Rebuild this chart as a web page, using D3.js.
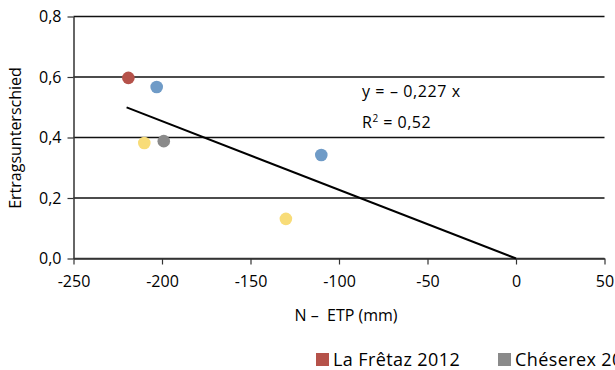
<!DOCTYPE html>
<html><head><meta charset="utf-8">
<script src="https://cdn.jsdelivr.net/npm/d3@7"></script>
<style>body{margin:0;background:#fff}svg{display:block}text{font-family:"Open Sans",sans-serif;fill:#000}</style>
</head><body>
<svg id="c" width="615" height="370"></svg>
<script>
const seriesNames = ["La Frêtaz 2012", "Chéserex 2012", "Serie 3", "Serie 4"];
const seriesColors = ["#b5524a", "#8a8a8a", "#6f9bc7", "#f8dc78"];
const pointX = [-219, -199, -203, -110, -210, -130];
const pointY = [0.597, 0.388, 0.567, 0.342, 0.382, 0.131];
const pointSeries = [0, 1, 2, 2, 3, 3];
const slope = -0.00227;
const trendX = [-220, 0];
const xTicks = [-250, -200, -150, -100, -50, 0, 50];
const yTicks = [0, 0.2, 0.4, 0.6, 0.8];
const legendShown = [0, 1];

const svg = d3.select("#c");
const x = d3.scaleLinear().domain([-250, 50]).range([73.5, 604.5]);
const y = d3.scaleLinear().domain([0, 0.8]).range([258.5, 16.5]);

// gridlines
svg.append("g").selectAll("line").data(yTicks.filter(d => d > 0)).join("line")
  .attr("x1", x(-250)).attr("x2", x(50)).attr("y1", d => y(d)).attr("y2", d => y(d))
  .attr("stroke", "#111").attr("stroke-width", 1.3);

const fmt = d => d3.format(".1f")(d).replace(".", ",");
const yAxis = svg.append("g").attr("transform", `translate(${x(-250)},0)`)
  .call(d3.axisLeft(y).tickValues(yTicks).tickSize(6).tickSizeOuter(0).tickFormat(fmt).tickPadding(6));
const xAxis = svg.append("g").attr("transform", `translate(0,${y(0)})`)
  .call(d3.axisBottom(x).tickValues(xTicks).tickSize(6).tickSizeOuter(0).tickFormat(d3.format("d")).tickPadding(11));
[yAxis, xAxis].forEach(a => {
  a.select(".domain").attr("stroke", "#333").attr("stroke-width", 1.5);
  a.selectAll(".tick line").attr("stroke", "#333").attr("stroke-width", 1.2);
  a.selectAll("text").style("font-size", "16px").attr("fill", "#000").style("font-family", '"Open Sans",sans-serif');
});
xAxis.selectAll("text").text(d => d < 0 ? "-" + Math.abs(d) : d);
svg.append("line").attr("x1", x(-250)).attr("x2", x(50)).attr("y1", y(0)).attr("y2", y(0))
  .attr("stroke", "#333").attr("stroke-width", 1.5);

// trend line
svg.append("line")
  .attr("x1", x(trendX[0])).attr("y1", y(slope * trendX[0]))
  .attr("x2", x(trendX[1])).attr("y2", y(slope * trendX[1]))
  .attr("stroke", "#000").attr("stroke-width", 2);

// points
svg.append("g").selectAll("circle").data(pointX.map((v, i) => i)).join("circle")
  .attr("cx", i => x(pointX[i])).attr("cy", i => y(pointY[i])).attr("r", 6.3)
  .attr("fill", i => seriesColors[pointSeries[i]]);

// equation
svg.append("text").attr("x", 362).attr("y", 97).style("font-size", "16px").style("letter-spacing", "0.6px")
  .style("white-space", "pre").text("y = – 0,227 x");
const r2 = svg.append("text").attr("x", 362).attr("y", 128).style("font-size", "16px").style("letter-spacing", "0.5px");
r2.append("tspan").text("R");
r2.append("tspan").attr("dy", -6).style("font-size", "10px").text("2");
r2.append("tspan").attr("dy", 6).text(" = 0,52");

// axis titles
svg.append("text").attr("x", 346).attr("y", 321).attr("text-anchor", "middle").style("font-size", "16px")
  .style("white-space", "pre").text("N –  ETP (mm)");
svg.append("text").attr("transform", "translate(21,138) rotate(-90)").attr("text-anchor", "middle").style("font-size", "16px").text("Ertragsunterschied");

// legend
const legX = [316, 498];
legendShown.forEach((s, k) => {
  svg.append("rect").attr("x", legX[k]).attr("y", 353).attr("width", 13).attr("height", 13).attr("fill", seriesColors[s]);
  svg.append("text").attr("x", legX[k] + 17).attr("y", 366).style("font-size", "18px").style("letter-spacing", "0.4px").text(seriesNames[s]);
});
</script>
</body></html>
